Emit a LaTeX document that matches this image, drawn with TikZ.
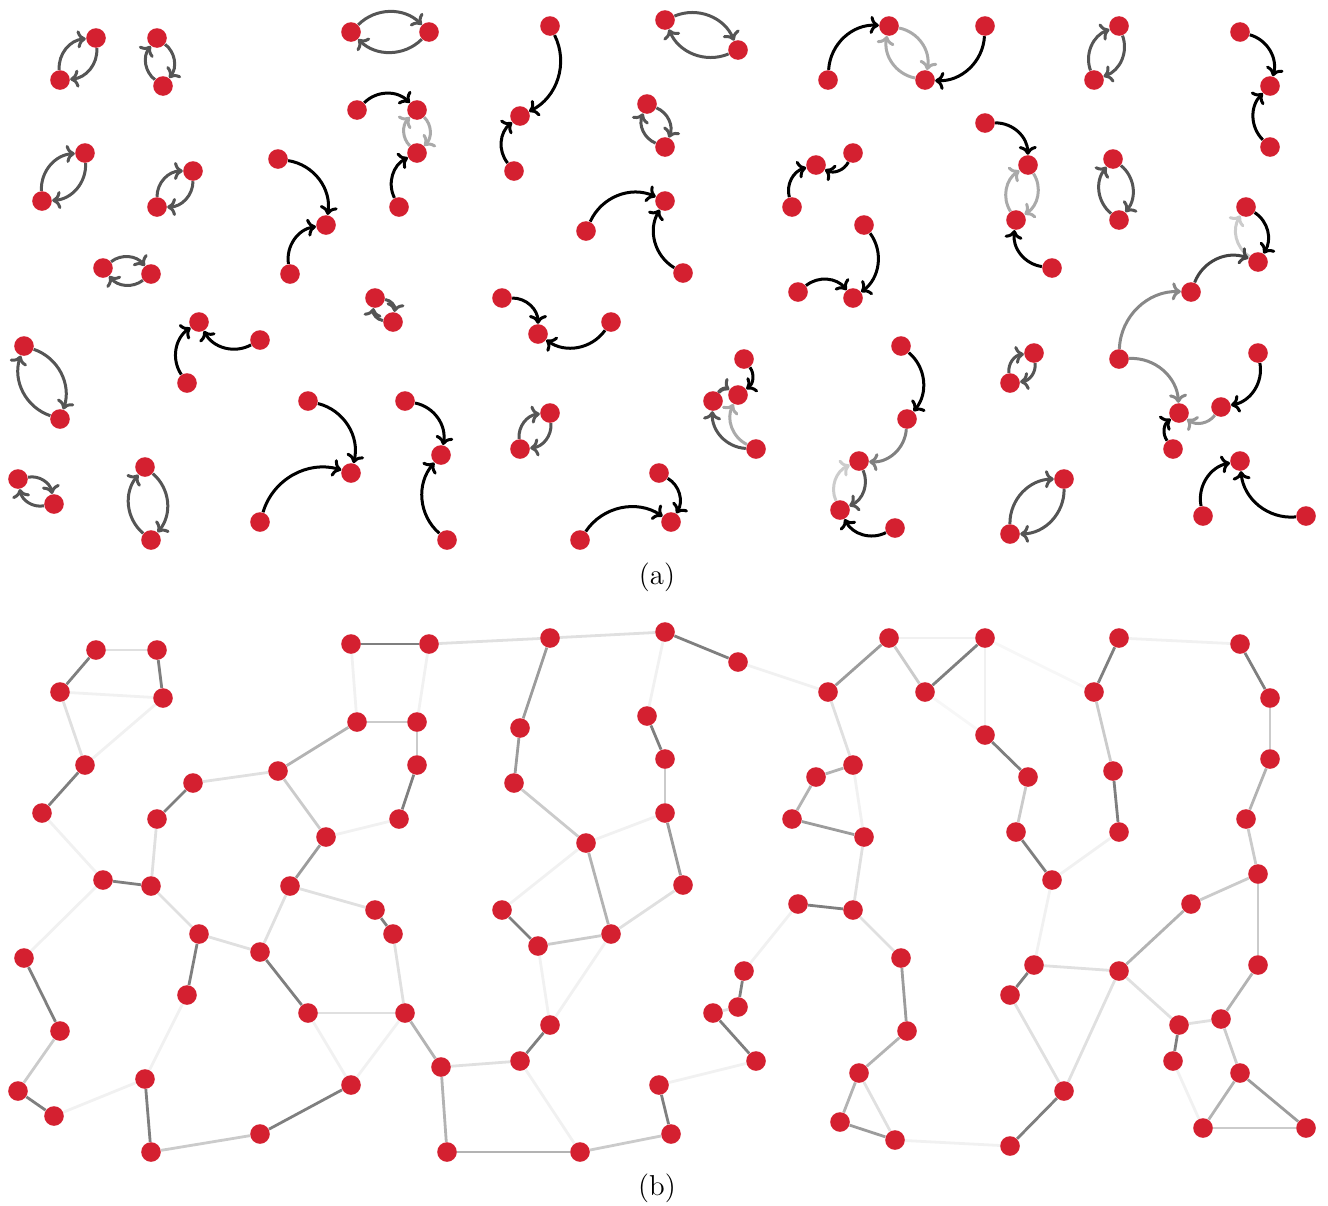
\documentclass[tikz,border=0pt]{standalone}
\usetikzlibrary{arrows.meta}
\definecolor{nred}{HTML}{D42030}
\definecolor{kD}{HTML}{555555}
\definecolor{kDD}{HTML}{444444}
\definecolor{kM}{HTML}{808080}
\definecolor{kMb}{HTML}{888888}
\definecolor{kMc}{HTML}{999999}
\definecolor{kL}{HTML}{AAAAAA}
\definecolor{kLL}{HTML}{CCCCCC}
\definecolor{cA}{HTML}{7F7F7F}
\definecolor{cB}{HTML}{9C9C9C}
\definecolor{cC}{HTML}{B3B3B3}
\definecolor{cD}{HTML}{CBCBCB}
\definecolor{cE}{HTML}{E0E0E0}
\definecolor{cF}{HTML}{F1F1F1}
\definecolor{cG}{HTML}{F7F7F7}
\pgfdeclarelayer{bg}
\pgfsetlayers{bg,main}
\begin{document}
\begin{tikzpicture}[x=0.5pt,y=-0.5pt,
  pt/.style={circle,fill=nred,draw=none,minimum size=9.8pt,inner sep=0pt},
  arr/.style={line width=1.5pt,-{To[length=4.4pt,width=9pt]},bend left=45},
  edgeb/.style={line width=1.4pt}]
\useasboundingbox (0,0) rectangle (1328,1205);
\foreach \n/\x/\y in {1/96/38,2/60/80,3/157/38,4/163/86,5/85/153,6/42/201,7/193/171,8/157/207,9/103/268,10/151/274,
11/278/159,12/326/225,13/290/274,14/351/32,15/429/32,16/550/26,17/357/110,18/417/110,19/417/153,20/399/207,
21/520/116,22/514/171,23/647/104,24/665/147,25/586/231,26/665/201,27/683/273,28/665/20,29/738/50,30/889/26,
31/828/80,32/925/80,33/985/26,34/985/123,35/816/165,36/853/153,37/792/207,38/864/225,39/1119/26,40/1094/80,
41/1240/32,42/1270/86,43/1270/147,44/1028/165,45/1016/220,46/1052/268,47/1113/159,48/1119/220,49/1246/207,50/1258/262,
51/1191/292,52/24/346,53/60/419,54/199/322,55/260/340,56/187/383,57/308/401,58/18/479,59/54/504,60/145/467,
61/151/540,62/260/522,63/375/298,64/393/322,65/502/298,66/538/334,67/611/322,68/405/401,69/441/455,70/447/540,
71/550/413,72/520/449,73/351/473,74/580/540,75/659/473,76/671/522,77/798/292,78/853/298,79/744/359,80/738/395,
81/713/401,82/756/449,83/901/346,84/907/419,85/859/461,86/840/510,87/895/528,88/1034/353,89/1010/383,90/1119/359,
91/1179/413,92/1221/407,93/1258/353,94/1173/449,95/1064/479,96/1010/534,97/1240/461,98/1203/516,99/1306/516}
{
  \node[pt] (a\n) at (\x,\y) {};
  \node[pt] (b\n) at (\x,\y+612) {};
}
\begin{pgfonlayer}{bg}
% panel (a): mutual pairs
\foreach \s/\t in {1/2,3/4,5/6,7/8,9/10,14/15,23/24,28/29,39/40,47/48,52/53,58/59,60/61,63/64,71/72,88/89,95/96}
{
  \draw[arr,kD] (a\s) to (a\t);
  \draw[arr,kD] (a\t) to (a\s);
}
\foreach \s/\t in {18/19,30/32,44/45}
{
  \draw[arr,kL] (a\s) to (a\t);
  \draw[arr,kL] (a\t) to (a\s);
}
% panel (a): single arrows
\foreach \s/\t/\c in {11/12/black,13/12/black,17/18/black,20/19/black,16/21/black,22/21/black,25/26/black,27/26/black,
31/30/black,33/32/black,37/35/black,36/35/black,38/78/black,77/78/black,34/44/black,46/45/black,41/42/black,43/42/black,
49/50/black,56/54/black,55/54/black,57/73/black,62/73/black,65/66/black,67/66/black,68/69/black,70/69/black,74/76/black,
75/76/black,79/80/black,83/84/black,87/86/black,93/92/black,94/91/black,98/97/black,99/97/black,
50/49/kLL,51/50/kDD,81/80/kD,82/81/kD,82/80/kL,84/85/kM,85/86/kD,86/85/kLL,90/51/kMb,90/91/kMb,92/91/kMc}
{
  \draw[arr,\c] (a\s) to (a\t);
}
% panel (b): undirected edges
\foreach \s/\t/\c in {1/3/cE,1/2/cA,3/4/cA,2/4/cF,2/5/cE,4/5/cF,5/6/cA,6/9/cF,9/10/cA,7/8/cA,7/11/cE,8/10/cE,
11/17/cC,11/12/cD,12/20/cF,12/13/cB,14/15/cA,14/17/cF,15/18/cF,17/18/cD,18/19/cD,19/20/cA,15/16/cE,16/21/cB,
21/22/cB,22/25/cD,16/28/cE,28/23/cF,23/24/cA,24/26/cD,26/25/cF,26/27/cB,27/67/cE,25/67/cC,25/65/cF,65/66/cA,
66/67/cD,66/71/cF,67/71/cF,71/72/cA,72/69/cE,72/74/cF,69/70/cC,70/74/cC,74/76/cD,76/75/cA,75/82/cF,13/63/cE,
63/64/cA,64/68/cE,68/69/cC,68/57/cE,68/73/cF,57/73/cF,73/62/cA,62/61/cD,61/60/cA,60/59/cF,59/58/cA,58/53/cD,
53/52/cA,52/9/cF,10/54/cE,54/55/cE,54/56/cA,56/60/cF,55/57/cA,55/13/cE,28/29/cA,29/31/cF,31/30/cB,30/32/cD,
30/33/cF,32/33/cA,33/34/cF,33/40/cG,32/34/cG,31/36/cE,36/35/cC,35/37/cC,37/38/cB,36/38/cF,34/44/cA,44/45/cD,
45/46/cA,39/41/cF,39/40/cA,40/47/cD,47/48/cA,48/46/cF,41/42/cA,42/43/cD,43/49/cC,49/50/cD,50/51/cD,50/93/cD,
46/88/cF,38/78/cE,77/78/cA,77/79/cF,51/90/cC,79/80/cA,80/81/cE,81/82/cA,78/83/cE,83/84/cB,84/85/cC,85/86/cC,
85/87/cE,86/87/cB,87/96/cF,96/95/cA,95/89/cE,95/90/cE,89/88/cA,88/90/cE,90/91/cE,91/92/cE,91/94/cA,92/93/cC,
92/97/cD,97/98/cC,97/99/cB,98/99/cD,94/98/cF}
{
  \draw[edgeb,\c] (b\s) -- (b\t);
}
\end{pgfonlayer}
\node[font=\Large] (capa) at (657,577) {(a)};
\node[font=\Large] (capb) at (657,1188) {(b)};
\end{tikzpicture}
\end{document}
